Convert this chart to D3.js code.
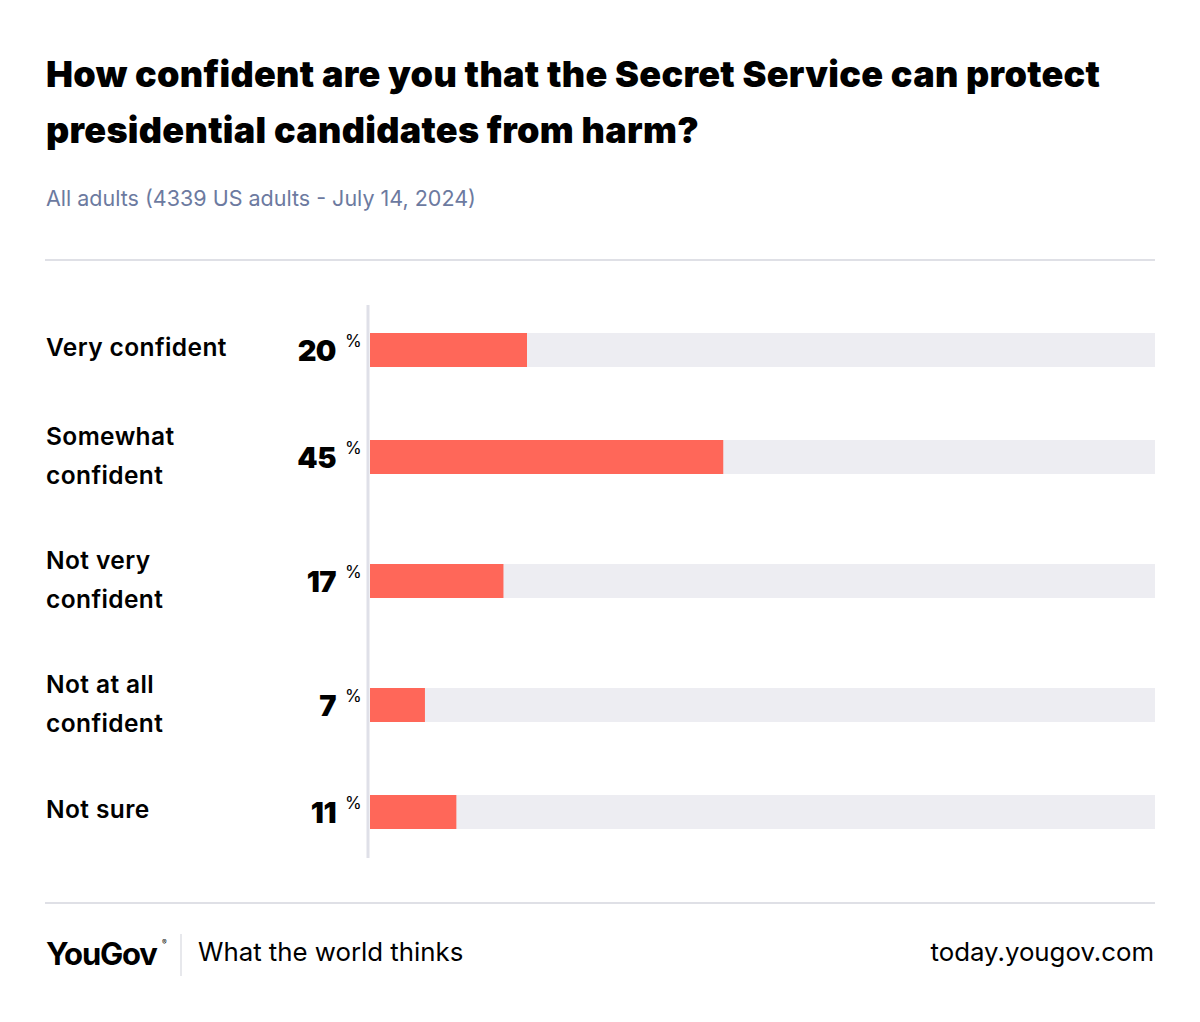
<!DOCTYPE html>
<html><head><meta charset="utf-8">
<script src="https://cdn.jsdelivr.net/npm/d3@7"></script>
<style>html,body{margin:0;padding:0;background:#fff}svg{display:block}</style>
</head><body>
<script>
const categories = ["Very confident", "Somewhat confident", "Not very confident", "Not at all confident", "Not sure"];
const labelLines = [["Very confident"], ["Somewhat", "confident"], ["Not very", "confident"], ["Not at all", "confident"], ["Not sure"]];
const values = [20, 45, 17, 7, 11];
const axisDomain = [0, 100];
const titleLines = ["How confident are you that the Secret Service can protect", "presidential candidates from harm?"];
const subtitle = "All adults (4339 US adults - July 14, 2024)";
const brand = "YouGov";
const tagline = "What the world thinks";
const site = "today.yougov.com";

const W = 1200, H = 1022;
const svg = d3.select("body").append("svg").attr("width", W).attr("height", H);
const FONT = "Inter, 'Noto Sans', sans-serif";

const title = svg.append("text").attr("x", 46).attr("font-family", FONT).attr("font-weight", 900)
  .attr("font-size", 36).attr("fill", "#000");
title.selectAll("tspan").data(titleLines).join("tspan")
  .attr("x", 46).attr("y", (d, i) => 87 + i * 56).text(d => d);
// fit first line to reference width
const t0 = title.select("tspan").node();
const w0 = t0.getComputedTextLength();
const ls = (1054 - w0) / (titleLines[0].length - 1);
title.attr("letter-spacing", ls);

svg.append("text").attr("x", 46).attr("y", 206).attr("font-family", FONT)
  .attr("font-size", 21.5).attr("fill", "#6c7aa0").text(subtitle);

svg.append("line").attr("x1", 45).attr("x2", 1155).attr("y1", 260).attr("y2", 260)
  .attr("stroke", "#dfe0e6").attr("stroke-width", 2);
svg.append("line").attr("x1", 45).attr("x2", 1155).attr("y1", 903).attr("y2", 903)
  .attr("stroke", "#dfe0e6").attr("stroke-width", 2);

// row heights depend on label line count
const rowH = n => n > 1 ? 124 : 90;
const plotTop = 305;
let acc = plotTop;
const centers = labelLines.map(l => { const c = acc + rowH(l.length) / 2; acc += rowH(l.length); return c; });
const y = d3.scaleOrdinal().domain(categories).range(centers);
const x = d3.scaleLinear().domain(axisDomain).range([370, 1155]);
const barH = 34;

svg.append("line").attr("x1", 368).attr("x2", 368).attr("y1", plotTop).attr("y2", acc + 1)
  .attr("stroke", "#dfe0e8").attr("stroke-width", 3);

const rows = svg.selectAll("g.row").data(categories).join("g").attr("class", "row");
rows.append("rect").attr("x", x(axisDomain[0])).attr("width", x(axisDomain[1]) - x(axisDomain[0]))
  .attr("y", d => y(d) - barH / 2).attr("height", barH).attr("fill", "#ededf2");
rows.append("rect").attr("x", x(0)).attr("width", (d, i) => x(values[i]) - x(0))
  .attr("y", d => y(d) - barH / 2).attr("height", barH).attr("fill", "#ff6759");

rows.append("text").attr("font-family", FONT).attr("font-weight", 600).attr("font-size", 24.5)
  .attr("letter-spacing", 0.4).attr("fill", "#000")
  .each(function (d, i) {
    const lines = labelLines[i];
    const first = lines.length > 1 ? y(d) - 12 : y(d) + 6;
    d3.select(this).selectAll("tspan").data(lines).join("tspan")
      .attr("x", 46).attr("y", (t, j) => first + j * 39).text(t => t);
  });

rows.append("text").attr("x", 336).attr("y", d => y(d) + 11).attr("text-anchor", "end")
  .attr("font-family", FONT).attr("font-weight", 900).attr("font-size", 29).attr("fill", "#000")
  .attr("letter-spacing", -0.5)
  .text((d, i) => values[i]);
rows.append("text").attr("x", 345).attr("y", d => y(d) - 3)
  .attr("font-family", FONT).attr("font-size", 17).attr("fill", "#000").text("%");

svg.append("text").attr("x", 46).attr("y", 965).attr("font-family", FONT).attr("font-weight", 700)
  .attr("font-size", 31).attr("letter-spacing", -1.2).attr("fill", "#000").text(brand);
svg.append("text").attr("x", 162).attr("y", 945).attr("font-family", FONT).attr("font-size", 7).text("®");
svg.append("line").attr("x1", 181).attr("x2", 181).attr("y1", 934).attr("y2", 976)
  .attr("stroke", "#dfe0e6").attr("stroke-width", 1.5);
svg.append("text").attr("x", 198).attr("y", 961).attr("font-family", FONT)
  .attr("font-size", 25.8).attr("fill", "#000").text(tagline);
svg.append("text").attr("x", 1154).attr("y", 961).attr("text-anchor", "end").attr("font-family", FONT)
  .attr("font-size", 25.8).attr("fill", "#000").text(site);
</script>
</body></html>
